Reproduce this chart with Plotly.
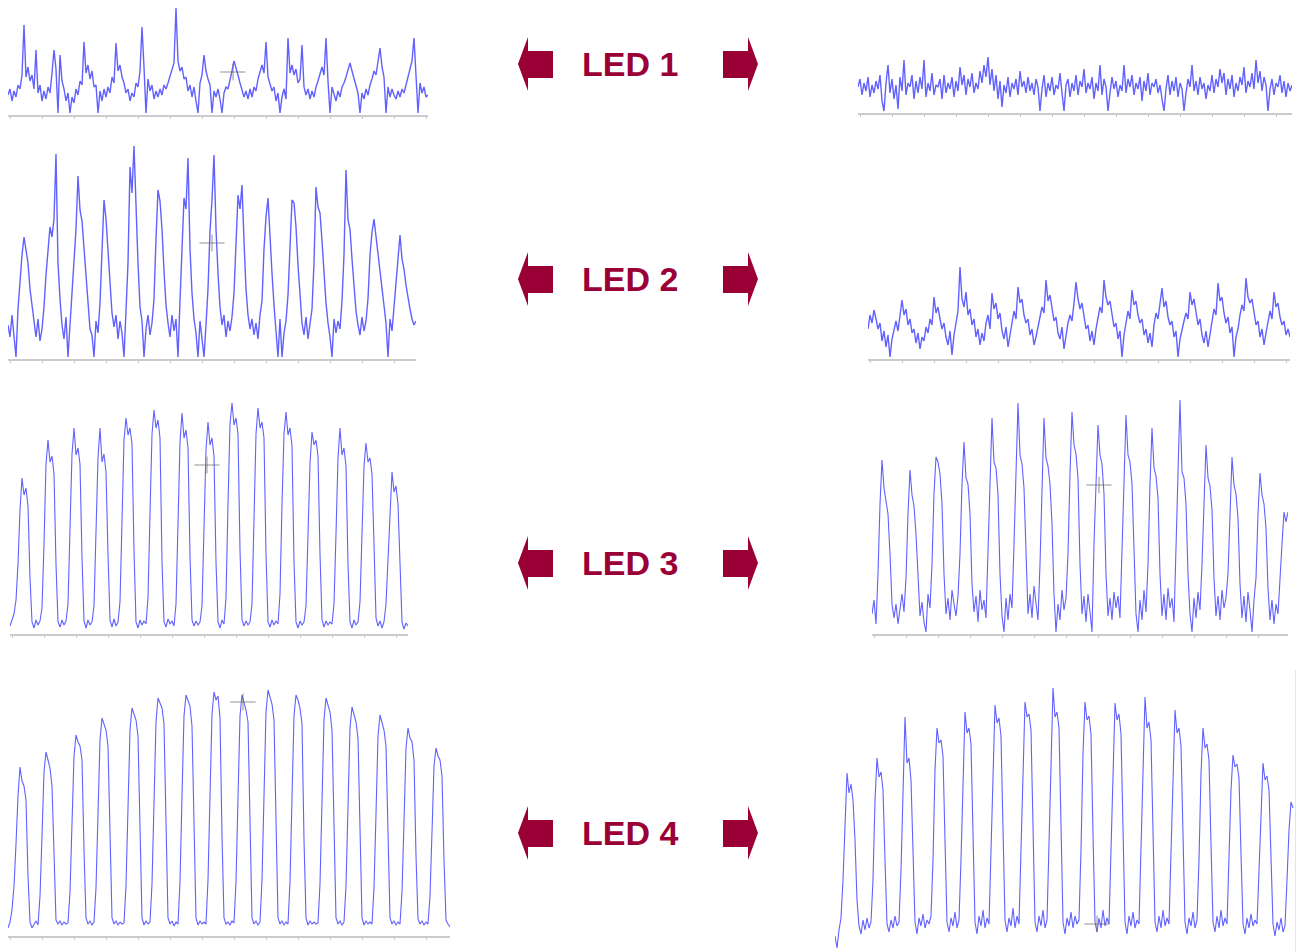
import plotly.graph_objects as go

W, H = 1306, 952

# ---------------- data (signal amplitude, arbitrary units, one sample per step) -------------
LED_LABELS = ["LED 1", "LED 2", "LED 3", "LED 4"]

L1 = [20,26,14,24,18,30,26,40,90,38,
      48,34,40,26,65,22,30,14,24,16,
      28,22,42,65,46,2,60,34,26,14,
      22,2,18,12,26,20,34,30,73,42,
      50,36,44,28,30,2,24,14,26,18,
      28,22,38,32,72,44,50,38,32,22,
      26,14,22,18,32,28,44,88,48,2,
      36,24,30,16,24,18,26,20,30,26,
      32,38,46,52,107,54,44,48,36,38,
      24,30,18,28,14,2,32,40,60,44,
      36,30,2,24,18,26,16,2,22,28,
      26,34,44,54,48,40,32,24,18,24,
      16,26,18,28,24,36,44,50,42,73,
      38,32,24,28,14,22,2,18,26,16,
      77,42,50,40,46,32,36,70,28,20,
      26,16,24,18,28,34,42,48,40,77,
      34,2,28,22,14,24,18,28,32,38,
      46,52,44,36,30,22,2,22,16,26,
      20,30,36,44,40,54,67,48,38,2,
      28,18,26,20,16,24,18,26,22,30,
      38,46,54,77,44,2,32,22,28,18,20]

R1 = [26,34,18,30,22,36,16,28,20,32,
      24,38,12,2,30,48,20,34,14,28,
      4,36,22,53,18,30,26,38,14,32,
      20,36,24,53,16,30,22,40,18,28,
      26,34,14,38,20,30,24,36,16,32,
      22,46,28,38,18,34,26,40,20,30,
      24,42,30,48,36,56,28,44,22,38,
      14,32,6,28,20,36,16,30,24,34,
      18,42,26,32,20,36,22,30,18,34,
      26,2,24,38,16,30,22,36,18,28,
      24,40,20,2,28,34,16,30,22,38,
      18,32,26,44,20,30,24,36,14,30,
      22,48,18,34,26,2,20,36,24,32,
      16,28,22,48,20,34,26,38,18,30,
      24,36,12,32,22,40,18,30,26,34,
      20,28,14,2,24,38,18,32,22,36,
      16,30,24,2,20,34,26,48,22,32,
      18,36,24,30,14,28,22,38,20,34,
      26,44,30,40,18,34,24,38,16,30,
      22,36,28,46,20,32,26,40,24,53,
      30,42,22,36,28,2,24,34,18,30,
      26,38,20,32,16,30,22,28]

L2 = [34,22,44,26,2,
      50,78,104,122,108,96,70,52,
      34,22,40,18,30,
      52,84,112,132,122,140,205,96,60,
      34,20,42,2,36,
      62,98,130,183,149,138,110,76,48,
      30,24,2,38,26,
      56,110,159,140,112,74,46,
      32,44,20,38,26,2,
      48,96,192,166,213,150,96,52,
      38,2,30,44,24,36,
      60,120,169,158,130,88,54,
      36,22,44,28,40,2,
      58,118,161,150,201,110,66,40,
      26,2,38,20,2,34,
      70,128,159,204,130,86,52,
      34,44,22,38,28,42,
      66,126,164,150,174,118,70,44,
      30,40,24,36,20,44,
      58,110,142,161,120,86,54,
      30,2,40,2,26,38,
      64,120,159,156,132,94,60,
      36,24,42,20,34,
      50,96,172,152,146,118,84,56,
      36,22,2,40,26,38,30,
      58,104,189,139,130,100,70,48,
      34,24,42,28,38,
      60,104,127,140,122,110,90,72,54,
      36,2,40,28,
      52,78,104,124,100,90,74,60,50,40,34,38]

R2 = [30,44,36,49,40,30,36,18,28,12,24,2,20,30,
      38,28,46,59,44,50,34,40,26,30,16,26,10,22,18,32,
      26,40,34,62,46,52,40,30,36,22,14,28,4,24,
      36,48,92,60,52,67,44,50,34,40,22,30,14,26,18,
      36,44,30,66,50,56,40,46,28,20,32,12,24,
      34,48,40,72,56,60,44,36,40,24,30,14,22,34,
      42,52,46,79,58,64,48,38,42,26,20,32,10,26,36,
      44,38,56,77,60,50,56,40,30,34,18,28,14,30,
      42,52,46,79,62,54,58,42,32,36,20,28,2,24,
      36,48,40,69,54,58,44,36,40,24,30,16,26,12,
      34,46,40,56,71,52,58,42,34,38,22,28,2,20,30,
      38,46,40,67,54,60,44,34,40,24,16,28,12,26,
      38,50,44,76,58,62,46,36,42,26,32,2,22,30,
      44,54,48,81,62,56,60,44,34,38,22,30,14,26,
      36,48,40,67,52,56,42,34,38,24,30,22]

L3 = [8,14,20,34,70,124,156,139,146,128,56,12,6,14,9,13,
      26,90,170,194,172,178,160,70,12,7,14,9,13,
      30,100,180,206,179,186,170,76,13,6,14,9,12,
      28,96,176,206,172,180,162,80,14,7,15,8,12,
      32,110,194,216,199,206,190,84,12,6,14,9,13,10,
      36,120,200,224,206,214,196,72,12,7,15,10,13,8,
      30,110,192,221,196,204,186,78,14,8,13,9,12,
      28,104,184,212,189,196,178,72,12,6,14,10,
      36,130,210,231,209,216,200,84,14,8,13,9,12,
      30,120,200,226,206,212,196,80,12,7,14,9,13,10,
      40,130,200,222,199,206,188,72,12,6,13,9,12,
      28,96,170,202,189,194,178,80,14,7,13,9,12,10,
      30,100,176,206,179,186,168,70,12,6,14,9,12,
      32,104,168,191,172,176,160,90,16,8,13,6,12,
      30,80,130,162,142,148,130,60,12,5,11,8]

R3 = [20,34,10,60,130,174,146,130,120,80,30,16,30,10,28,40,22,
      56,120,164,139,128,100,60,18,32,12,2,40,26,
      70,140,177,172,160,130,60,20,36,14,44,30,18,38,
      80,150,192,156,150,120,50,22,38,12,44,24,34,16,
      90,160,216,172,166,140,60,18,2,36,14,40,26,
      90,170,231,179,170,146,70,20,40,16,48,28,14,
      70,150,216,176,168,150,110,40,2,30,14,44,24,36,
      80,160,222,189,180,156,70,20,38,12,40,22,2,
      90,160,209,179,170,140,60,18,36,14,42,26,38,16,
      80,160,219,179,172,150,70,20,2,34,14,44,22,
      70,150,206,166,158,136,60,18,40,14,46,26,36,12,
      90,170,234,162,156,130,60,20,2,36,16,42,24,
      70,140,189,156,148,124,56,18,38,14,44,26,36,
      60,130,177,149,140,116,50,16,38,12,42,24,2,34,
      56,120,161,139,130,106,46,14,34,10,30,20,
      60,90,122,112,122]

L4 = [8,14,26,50,92,140,169,155,150,136,60,14,8,12,15,11,
      40,100,164,184,176,168,150,70,16,12,15,11,14,12,13,
      44,110,180,201,194,190,176,86,18,12,15,11,14,
      48,120,196,218,212,206,190,90,18,12,15,11,14,12,13,
      50,130,206,228,222,216,200,94,18,11,15,12,14,
      52,134,214,238,232,228,212,96,18,12,15,10,14,12,
      54,140,220,241,236,230,210,100,18,11,15,12,14,12,
      56,140,222,244,236,240,218,100,18,12,14,11,15,13,
      54,138,220,241,234,226,214,98,18,12,15,11,14,
      56,142,224,246,238,232,216,100,18,12,15,11,14,12,
      54,138,220,241,236,228,212,96,18,11,15,12,14,12,13,
      52,134,216,238,230,224,206,94,18,12,15,11,14,
      50,128,208,229,222,214,198,90,18,11,15,12,14,12,
      48,122,200,221,212,206,190,86,18,12,15,11,14,12,
      44,114,188,208,198,194,176,80,17,12,15,11,14,12,
      40,104,170,188,180,176,160,76,16,12,9]

R4 = [4,-8,10,22,60,120,167,147,156,140,100,40,14,6,20,10,22,12,18,
      60,140,182,163,168,150,80,16,8,20,12,24,14,18,
      70,150,223,177,182,160,90,18,6,22,14,26,12,20,16,24,
      80,170,212,197,200,184,100,18,8,22,14,28,12,20,
      80,170,228,207,212,196,100,18,6,24,14,30,12,22,16,
      90,180,235,217,222,204,110,20,8,22,14,32,12,24,16,
      90,190,238,223,226,210,110,18,8,24,14,30,12,20,
      96,190,252,223,228,212,110,18,6,22,14,28,12,24,16,20,
      90,186,238,220,224,206,106,18,8,22,12,30,14,22,16,
      90,184,237,220,226,206,106,18,6,24,14,28,12,20,16,
      88,180,243,212,218,200,104,18,8,24,12,30,14,22,16,
      86,176,230,207,212,194,100,18,6,22,14,28,12,20,
      80,166,212,192,196,180,96,18,8,24,12,30,14,22,16,
      76,150,185,173,176,162,86,16,6,22,12,26,14,20,16,
      70,140,177,160,164,150,80,16,4,18,10,22,8,14,
      60,110,138,132]

# cursor crosshair markers (panel, sample, amplitude)
CURSOR_PANEL = ["L1", "L2", "L3", "L4", "R3", "R4"]
CURSOR_T = [112.5, 102, 98.5, 117.5, 113.5, 131]
CURSOR_V = [43, 116, 169, 234, 149, 16]

# ---------------- layout geometry (pixels) ----------------
# key, values, left, right, top, baseline, bottom, show baseline
PANELS = [
    ("L1", L1, 8, 428, 0, 115, 115, True),
    ("R1", R1, 858, 1292, 50, 113, 113, True),
    ("L2", L2, 8, 416, 140, 359, 359, True),
    ("R2", R2, 868, 1290, 255, 359, 359, True),
    ("L3", L3, 10, 408, 395, 634, 634, True),
    ("R3", R3, 872, 1288, 395, 634, 634, True),
    ("L4", L4, 8, 450, 670, 936, 936, True),
    ("R4", R4, 835, 1295, 670, 940, 952, False),
]
LABEL_Y = [64, 279, 563, 833]

TRACE_COLOR = "rgba(30,30,255,0.7)"
BASE_COLOR = "#cbcbcb"
LED_COLOR = "#9a0036"
NOISY = {"L1", "R1", "L2", "R2"}

fig = go.Figure()
layout = {}
axis_idx = {}
for i, (key, vals, x0, x1, top, base, bottom, show_base) in enumerate(PANELS, start=1):
    sfx = "" if i == 1 else str(i)
    axis_idx[key] = sfx
    fig.add_trace(go.Scatter(
        x=list(range(len(vals))), y=vals, mode="lines",
        line=dict(color=TRACE_COLOR, width=1.4 if key in NOISY else 1.1),
        xaxis="x" + sfx, yaxis="y" + sfx,
        hoverinfo="skip", showlegend=False,
    ))
    layout["xaxis" + sfx] = dict(
        domain=[x0 / W, x1 / W], range=[0, (x1 - x0) / 2],
        showgrid=False, zeroline=False, showticklabels=False,
        showline=show_base, linecolor=BASE_COLOR, linewidth=2,
        ticks="outside" if show_base else "", ticklen=2, tickcolor="#c4c4c4",
        tick0=1, dtick=16, anchor="y" + sfx, fixedrange=True,
    )
    yax = dict(
        domain=[1 - bottom / H, 1 - top / H],
        range=[base - bottom, base - top],
        showgrid=False, zeroline=False, showticklabels=False, ticks="",
        showline=False, anchor="x" + sfx, fixedrange=True,
    )
    if key == "R4":
        yax.update(side="right", showline=True, linecolor="#e4e4e4", linewidth=1)
    layout["yaxis" + sfx] = yax

# cursor crosshairs
for p, t, v in zip(CURSOR_PANEL, CURSOR_T, CURSOR_V):
    sfx = axis_idx[p]
    for sym, sz in (("line-ew", 18), ("line-ns", 12)):
        fig.add_trace(go.Scatter(
            x=[t], y=[v], mode="markers",
            marker=dict(symbol=sym, size=sz,
                        line=dict(color="rgba(110,110,110,0.75)", width=1)),
            xaxis="x" + sfx, yaxis="y" + sfx,
            hoverinfo="skip", showlegend=False,
        ))

def P(x, y):
    return f"{x / W:.5f},{1 - y / H:.5f}"

shapes = []
annotations = []
for label, cy in zip(LED_LABELS, LABEL_Y):
    left = [(518, cy), (528, cy - 27), (528, cy - 13), (553, cy - 13),
            (553, cy + 14), (528, cy + 14), (528, cy + 27)]
    right = [(758, cy), (748, cy - 27), (748, cy - 13), (723, cy - 13),
             (723, cy + 14), (748, cy + 14), (748, cy + 27)]
    for pts in (left, right):
        path = "M " + " L ".join(P(x, y) for x, y in pts) + " Z"
        shapes.append(dict(type="path", xref="paper", yref="paper", path=path,
                           fillcolor=LED_COLOR, line=dict(width=0)))
    annotations.append(dict(
        x=630 / W, y=1 - cy / H, xref="paper", yref="paper",
        text=f"<b>{label}</b>", showarrow=False,
        xanchor="center", yanchor="middle",
        font=dict(family="Liberation Sans, Arial, sans-serif", size=34, color=LED_COLOR),
    ))

fig.update_layout(
    width=W, height=H, margin=dict(l=0, r=0, t=0, b=0),
    paper_bgcolor="white", plot_bgcolor="rgba(0,0,0,0)",
    shapes=shapes, annotations=annotations, showlegend=False,
    **layout,
)

fig.write_html(
    "out.html",
    config={"displayModeBar": False},
    post_script="document.body.style.margin='0';document.body.style.overflow='hidden';",
)
